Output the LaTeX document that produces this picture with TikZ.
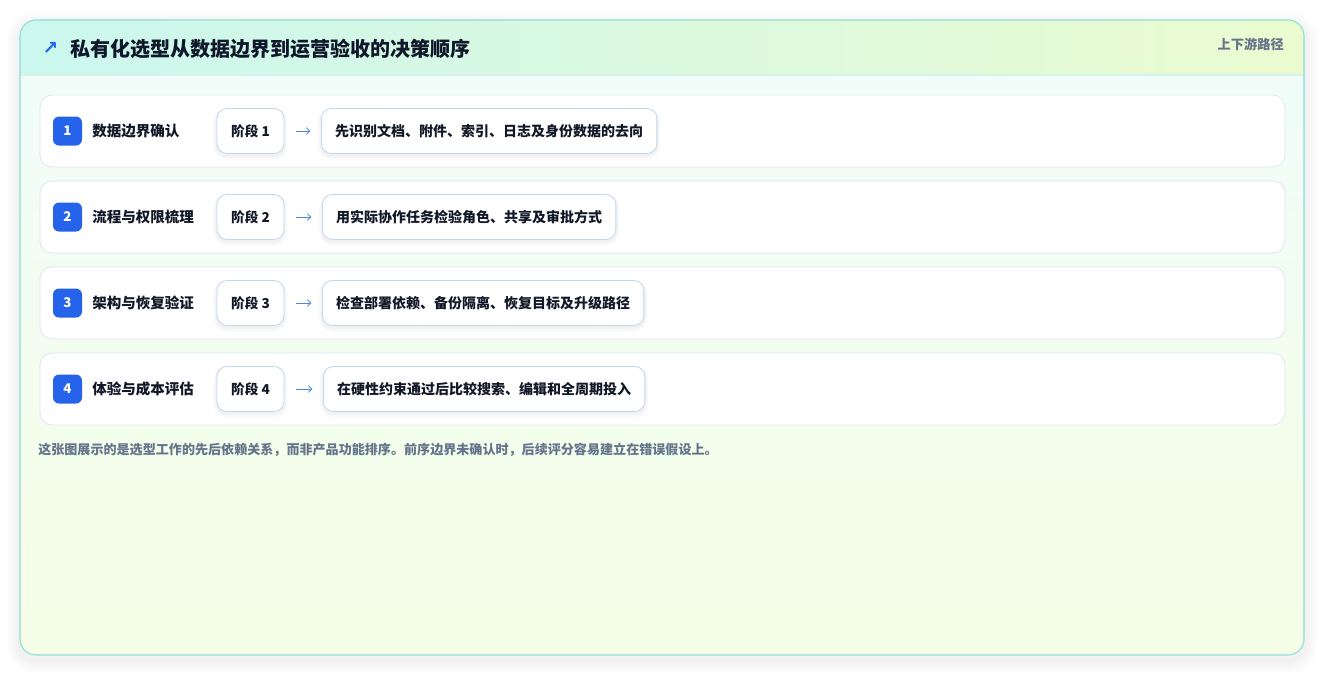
\documentclass[tikz,border=0pt]{standalone}
\usepackage{fontspec}
\setmainfont{Noto Sans CJK SC}
\newfontfamily\symfont{DejaVu Sans}
\usetikzlibrary{arrows.meta}
\definecolor{cardline}{HTML}{8EDFD3}
\definecolor{bodytop}{HTML}{F0FDFA}
\definecolor{bodybot}{HTML}{F5FEE6}
\definecolor{headl}{HTML}{CBF7EE}
\definecolor{headr}{HTML}{EBFBD0}
\definecolor{headline}{HTML}{D6F2EC}
\definecolor{rowline}{HTML}{DCE6F2}
\definecolor{boxline}{HTML}{C5D5EE}
\definecolor{badgeblue}{HTML}{2563EB}
\definecolor{arrowblue}{HTML}{4F86DE}
\definecolor{titletext}{HTML}{0F172A}
\definecolor{labeltext}{HTML}{111827}
\definecolor{graytext}{HTML}{64748B}
\begin{document}
\begin{tikzpicture}[x=0.75pt,y=-0.75pt,
  card/.style={rounded corners=12pt},
  rowbox/.style={draw=rowline, fill=white, rounded corners=9pt, line width=0.6pt,
    minimum width=933.75pt, minimum height=54pt, inner sep=0pt},
  badge/.style={fill=badgeblue, rounded corners=4.5pt, minimum width=21.75pt,
    minimum height=21.75pt, inner sep=0pt, text=white,
    font=\bfseries\fontsize{10}{12}\selectfont},
  rowlabel/.style={anchor=west, inner sep=0pt, text=labeltext,
    font=\bfseries\fontsize{10.9}{12}\selectfont},
  softshadow/.style={
    preaction={draw=black, draw opacity=0.022, line width=5pt, transform canvas={yshift=-2pt}},
    preaction={draw=black, draw opacity=0.028, line width=2.5pt, transform canvas={yshift=-1.5pt}}},
  stagebox/.style={draw=boxline, fill=white, rounded corners=7.5pt, line width=0.6pt,
    minimum width=50.25pt, minimum height=33.75pt, inner sep=0pt, text=labeltext,
    font=\bfseries\fontsize{10.2}{12}\selectfont, softshadow},
  descbox/.style={draw=boxline, fill=white, rounded corners=7.5pt, line width=0.6pt,
    anchor=west, inner xsep=10.3pt, inner ysep=0pt, minimum height=33.75pt,
    text=labeltext, font=\bfseries\fontsize{10.5}{12}\selectfont, softshadow},
  flow/.style={draw=arrowblue, line width=0.6pt, -{Straight Barb[length=2.6pt,width=5pt]},
    shorten <=8.5pt, shorten >=8pt}
]
\useasboundingbox (0,0) rectangle (1325,676);
\fill[white] (0,0) rectangle (1325,676);
% card shadow
\foreach \w in {3,6,9,12,15,18,21}{
  \draw[black, draw opacity=0.009, line width=\w pt, card] (20,25) rectangle (1304,660);
}
% card
\shade[card, top color=bodytop, bottom color=bodybot] (20,20) rectangle (1304,655);
\begin{scope}
  \clip[card] (20,20) rectangle (1304,655);
  \shade[left color=headl, right color=headr] (20,20) rectangle (1304,75);
  \draw[headline, line width=0.8pt] (20,75) -- (1304,75);
\end{scope}
\draw[card, draw=cardline, line width=0.8pt] (20,20) rectangle (1304,655);
% header
\node[anchor=center, inner sep=0pt, text=badgeblue, font=\symfont\bfseries\fontsize{14}{14}\selectfont] (ico) at (50.5,48.5) {↗};
\node[anchor=west, inner sep=0pt, text=titletext, font=\bfseries\fontsize{15}{18}\selectfont] (title) at (70,48.5) {私有化选型从数据边界到运营验收的决策顺序};
\node[anchor=east, inner sep=0pt, text=graytext, font=\bfseries\fontsize{9.9}{12}\selectfont] (path) at (1284,44) {上下游路径};
% rows
\foreach \i/\lab/\desc/\dx in {
  1/数据边界确认/先识别文档、附件、索引、日志及身份数据的去向/321,
  2/流程与权限梳理/用实际协作任务检验角色、共享及审批方式/322,
  3/架构与恢复验证/检查部署依赖、备份隔离、恢复目标及升级路径/322,
  4/体验与成本评估/在硬性约束通过后比较搜索、编辑和全周期投入/323}{
  \pgfmathsetmacro{\cy}{131+86*(\i-1)}
  \node[rowbox] (row\i) at (662.5,\cy) {};
  \node[badge] (b\i) at (67.5,\cy) {\i};
  \node[rowlabel] (l\i) at (92,\cy) {\lab};
  \node[stagebox] (s\i) at (250.5,\cy) {阶段 \i};
  \node[descbox] (d\i) at (\dx,\cy) {\desc};
  \draw[flow] (s\i) -- (d\i);
}
% footnote
\node[anchor=west, inner sep=0pt, text=graytext, font=\bfseries\fontsize{9.8}{12}\selectfont] (note) at (38,450) {这张图展示的是选型工作的先后依赖关系，而非产品功能排序。前序边界未确认时，后续评分容易建立在错误假设上。};
\end{tikzpicture}
\end{document}
